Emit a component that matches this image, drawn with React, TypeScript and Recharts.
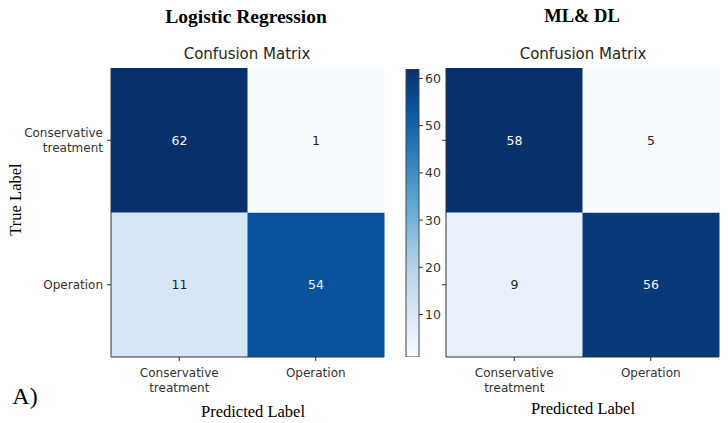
import React from "react";
import { BarChart, Bar, XAxis, YAxis, Cell, LabelList } from "recharts";

// ---------- data ----------
const predictedLabels = ["Conservative treatment", "Operation"];
const trueLabels = ["Conservative treatment", "Operation"];
const lrConservativeRow = [62, 1];
const lrOperationRow = [11, 54];
const mlConservativeRow = [58, 5];
const mlOperationRow = [9, 56];
const colorbarTicks = [10, 20, 30, 40, 50, 60];
const colorbarRange = [1, 62];

// ---------- styles ----------
const BLUES = ["#f7fbff", "#deebf7", "#c6dbef", "#9ecae1", "#6baed6", "#4292c6", "#2171b5", "#08519c", "#08306b"];
const SANS = "'DejaVu Sans', sans-serif";
const SERIF = "'Liberation Serif', 'Times New Roman', serif";
const AXIS = "#333";

function hexToRgb(h: string) {
  return [parseInt(h.slice(1, 3), 16), parseInt(h.slice(3, 5), 16), parseInt(h.slice(5, 7), 16)];
}
function blues(t: number) {
  const c = Math.max(0, Math.min(1, t)) * (BLUES.length - 1);
  const i = Math.min(Math.floor(c), BLUES.length - 2);
  const f = c - i;
  const a = hexToRgb(BLUES[i]);
  const b = hexToRgb(BLUES[i + 1]);
  const m = a.map((v, k) => Math.round(v + (b[k] - v) * f));
  return `rgb(${m[0]},${m[1]},${m[2]})`;
}

function XTick(props: any) {
  const { x, y, payload } = props;
  const lines = String(payload.value).split(" ");
  return (
    <text x={x} y={y} textAnchor="middle" fill="#333" fontSize={12} fontFamily={SANS}>
      {lines.map((l, i) => (
        <tspan key={i} x={x} dy={i === 0 ? 14 : 15}>{l}</tspan>
      ))}
    </text>
  );
}

function YTick(props: any) {
  const { x, y, payload } = props;
  const label = payload.value > 1 ? trueLabels[0] : trueLabels[1];
  const lines = label.split(" ");
  const start = -((lines.length - 1) * 15) / 2 + 4.3;
  return (
    <text x={x} y={y} textAnchor="end" fill="#333" fontSize={12} fontFamily={SANS}>
      {lines.map((l, i) => (
        <tspan key={i} x={x} dy={i === 0 ? start : 15}>{l}</tspan>
      ))}
    </text>
  );
}

function EmptyTick() {
  return <g />;
}

function Heatmap(props: {
  consRow: number[];
  opRow: number[];
  left: number;
  width: number;
  yAxisWidth: number;
  marginRight: number;
  showYLabels: boolean;
}) {
  const { consRow, opRow, left, width, yAxisWidth, marginRight, showYLabels } = props;
  const all = [...consRow, ...opRow];
  const vmin = Math.min(...all);
  const vmax = Math.max(...all);
  const thresh = (vmin + vmax) / 2;
  const color = (v: number) => blues((v - vmin) / (vmax - vmin));
  const data = predictedLabels.map((p, i) => ({ pred: p, cons: consRow[i], op: opRow[i] }));

  const renderLabel = (lp: any) => {
    const vb = lp.viewBox || lp;
    const x = (vb.x ?? lp.x) as number;
    const y = (vb.y ?? lp.y) as number;
    const w = (vb.width ?? lp.width) as number;
    const h = (vb.height ?? lp.height) as number;
    const v = lp.value as number;
    return (
      <text
        x={x + w / 2}
        y={y + h / 2}
        dy="0.35em"
        textAnchor="middle"
        fill={v > thresh ? "#f4f8fc" : "#262626"}
        fontSize={12.5}
        fontFamily={SANS}
      >
        {v}
      </text>
    );
  };

  return (
    <div style={{ position: "absolute", left, top: 0 }}>
      <BarChart
        width={width}
        height={423}
        data={data}
        margin={{ top: 68, right: marginRight, bottom: 26, left: 0 }}
        barCategoryGap={0}
        barGap={0}
      >
        <XAxis
          xAxisId="x"
          dataKey="pred"
          type="category"
          height={40}
          tickSize={4}
          tickMargin={2}
          interval={0}
          tick={(p: any) => <XTick {...p} />}
          stroke={AXIS}
          tickLine={{ stroke: AXIS }}
        />
        <XAxis xAxisId="top" orientation="top" dataKey="pred" height={0} tick={false} tickLine={false} stroke={AXIS} />
        <YAxis
          yAxisId="y"
          type="number"
          domain={[0, 2]}
          ticks={[0.5, 1.5]}
          width={yAxisWidth}
          tickSize={4}
          tickMargin={4}
          interval={0}
          tick={showYLabels ? (p: any) => <YTick {...p} /> : (p: any) => <EmptyTick />}
          stroke={AXIS}
          tickLine={{ stroke: AXIS }}
        />
        <YAxis yAxisId="r" orientation="right" type="number" domain={[0, 2]} width={0} tick={false} tickLine={false} stroke={AXIS} />
        <Bar xAxisId="x" yAxisId="y" dataKey={() => 1} stackId="s" isAnimationActive={false}>
          {data.map((d, i) => (
            <Cell key={`op${i}`} fill={color(d.op)} />
          ))}
          <LabelList dataKey="op" content={renderLabel} />
        </Bar>
        <Bar xAxisId="x" yAxisId="y" dataKey={() => 1} stackId="s" isAnimationActive={false}>
          {data.map((d, i) => (
            <Cell key={`cons${i}`} fill={color(d.cons)} />
          ))}
          <LabelList dataKey="cons" content={renderLabel} />
        </Bar>
      </BarChart>
    </div>
  );
}

function Colorbar() {
  const data = [{ name: "cb", range: colorbarRange }];
  return (
    <div style={{ position: "absolute", left: 390, top: 0 }}>
      <BarChart
        width={80}
        height={423}
        data={data}
        margin={{ top: 69, right: 0, bottom: 66, left: 16 }}
        barCategoryGap={0}
        barGap={0}
      >
        <defs>
          <linearGradient id="cbGrad" x1="0" y1="1" x2="0" y2="0">
            {BLUES.map((c, i) => (
              <stop key={i} offset={`${(i / (BLUES.length - 1)) * 100}%`} stopColor={c} />
            ))}
          </linearGradient>
        </defs>
        <XAxis dataKey="name" hide />
        <YAxis
          orientation="right"
          type="number"
          domain={colorbarRange}
          ticks={colorbarTicks}
          width={51}
          tickSize={4}
          tickMargin={2}
          axisLine={false}
          tickLine={{ stroke: AXIS }}
          tick={{ fill: "#333", fontSize: 12.5, fontFamily: SANS }}
          allowDataOverflow
          interval={0}
        />
        <Bar dataKey="range" fill="url(#cbGrad)" stroke="#444" strokeWidth={1} isAnimationActive={false} />
      </BarChart>
    </div>
  );
}

function Txt(props: { x: number; y: number; size: number; font: string; bold?: boolean; children: React.ReactNode; rotate?: boolean; color?: string }) {
  const { x, y, size, font, bold, children, rotate, color } = props;
  return (
    <div
      style={{
        position: "absolute",
        left: x - 150,
        top: y - size,
        width: 300,
        height: size * 2,
        lineHeight: `${size * 2}px`,
        textAlign: "center",
        fontFamily: font,
        fontSize: size,
        fontWeight: bold ? 700 : 400,
        color: color || "#000",
        whiteSpace: "nowrap",
        transform: rotate ? "rotate(-90deg)" : undefined,
      }}
    >
      {children}
    </div>
  );
}

export default function App() {
  return (
    <div style={{ position: "absolute", left: 0, top: 0, width: 728, height: 423, background: "#fff", overflow: "hidden" }}>
      <Txt x={246} y={16} size={19.5} font={SERIF} bold>Logistic Regression</Txt>
      <Txt x={582} y={16} size={18.5} font={SERIF} bold>ML&amp; DL</Txt>
      <Txt x={247} y={54} size={15} font={SANS} color="#262626">Confusion Matrix</Txt>
      <Txt x={583} y={54} size={15} font={SANS} color="#262626">Confusion Matrix</Txt>
      <Heatmap consRow={lrConservativeRow} opRow={lrOperationRow} left={0} width={400} yAxisWidth={111} marginRight={16} showYLabels />
      <Colorbar />
      <Heatmap consRow={mlConservativeRow} opRow={mlOperationRow} left={400} width={328} yAxisWidth={46} marginRight={9} showYLabels={false} />
      <Txt x={15} y={199} size={16.5} font={SERIF} rotate>True Label</Txt>
      <Txt x={253} y={411} size={16.5} font={SERIF}>Predicted Label</Txt>
      <Txt x={583} y={408} size={16.5} font={SERIF}>Predicted Label</Txt>
      <Txt x={25} y={396} size={24} font={SERIF}>A)</Txt>
    </div>
  );
}
